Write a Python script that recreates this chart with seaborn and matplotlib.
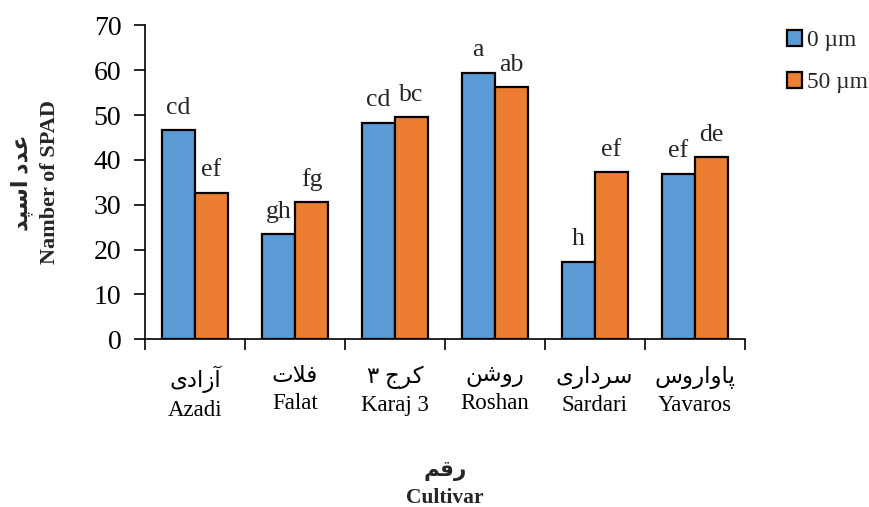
import matplotlib
matplotlib.use("Agg")
import matplotlib.pyplot as plt
import seaborn as sns
import pandas as pd
from matplotlib.ticker import FixedLocator

# ---- data ----
cultivars_en = ["Azadi", "Falat", "Karaj 3", "Roshan", "Sardari", "Yavaros"]
# Persian names, written in visual (left-to-right) order with presentation forms
cultivars_fa = [
    "\uFBFC\uFEA9\uFE8D\uFEAF\uFE81",              # آزادی
    "\uFE95\uFEFC\uFED3",                          # فلات
    "\u06F3 \uFE9D\uFEAE\uFB90",                   # کرج ۳
    "\uFEE6\uFEB7\uFEED\uFEAD",                    # روشن
    "\uFBFC\uFEAD\uFE8D\uFEA9\uFEAE\uFEB3",        # سرداری
    "\uFEB1\uFEED\uFEAD\uFE8D\uFEED\uFE8E\uFB58",  # پاواروس
]
treatments = ["0 \u00b5m", "50 \u00b5m"]
spad_0 = [46.6, 23.4, 48.3, 59.4, 17.2, 36.9]
spad_50 = [32.6, 30.5, 49.5, 56.2, 37.2, 40.6]
letters_0 = ["cd", "gh", "cd", "a", "h", "ef"]
letters_50 = ["ef", "fg", "bc", "ab", "ef", "de"]
ylabel_fa = "\uFEAA\uFB59\uFEB3\uFE8D \uFEA9\uFEAA\uFECB"  # عدد اسپد
xlabel_fa = "\uFEE2\uFED7\uFEAD"                             # رقم
ylabel_en = "Namber of SPAD"
xlabel_en = "Cultivar"

df = pd.DataFrame({
    "cultivar": cultivars_en * 2,
    "treatment": [treatments[0]] * 6 + [treatments[1]] * 6,
    "spad": spad_0 + spad_50,
})

sns.set_theme(style="white")
plt.rcParams["font.family"] = ["Liberation Serif", "DejaVu Sans"]

fig = plt.figure(figsize=(8.69, 5.07), dpi=100)
ax = fig.add_axes([0.1669, 0.3308, 0.6900, 0.6193])

sns.barplot(data=df, x="cultivar", y="spad", hue="treatment",
            order=cultivars_en, hue_order=treatments,
            palette=["#5B9BD5", "#ED7D31"], saturation=1,
            width=0.66, edgecolor="black", linewidth=1.6, ax=ax)

ax.set_ylim(0, 70)
ax.set_xlim(-0.5, 5.5)
ax.set_yticks(range(0, 71, 10))
ax.tick_params(axis="y", labelsize=20, length=8, width=1.2, direction="out",
               pad=9, colors="black", left=True)
ax.set_xticks(range(6))
ax.set_xticklabels([f"{fa}\n{en}" for fa, en in zip(cultivars_fa, cultivars_en)],
                   fontsize=16.5, linespacing=1.4)
ax.tick_params(axis="x", which="major", length=0, pad=19, colors="black")
ax.xaxis.set_minor_locator(FixedLocator([i - 0.5 for i in range(7)]))
ax.tick_params(axis="x", which="minor", length=8, width=1.2, direction="out",
               bottom=True, color="black")

for s in ["top", "right"]:
    ax.spines[s].set_visible(False)
for s in ["left", "bottom"]:
    ax.spines[s].set_color("black")
    ax.spines[s].set_linewidth(1.2)

ax.set_ylabel(f"{ylabel_fa}\n{ylabel_en}", fontsize=16, fontweight="bold",
              linespacing=1.5, labelpad=24)
ax.set_xlabel(f"{xlabel_fa}\n{xlabel_en}", fontsize=15.5, fontweight="bold",
              linespacing=1.45, labelpad=29)

for cont, letters in zip(ax.containers, [letters_0, letters_50]):
    for bar, lab in zip(cont, letters):
        ax.annotate(lab, (bar.get_x() + bar.get_width() / 2, bar.get_height()),
                    xytext=(0, 12), textcoords="offset points",
                    ha="center", va="baseline", fontsize=18.5)

handles, labels = ax.get_legend_handles_labels()
ax.legend(handles, labels, loc="upper left", bbox_to_anchor=(0.906, 0.94),
          bbox_transform=fig.transFigure, frameon=False, fontsize=16.8,
          handlelength=0.65, handleheight=0.65, handletextpad=0.2,
          labelspacing=0.9, borderaxespad=0, borderpad=0)

fig.savefig("out.png", dpi=100)
